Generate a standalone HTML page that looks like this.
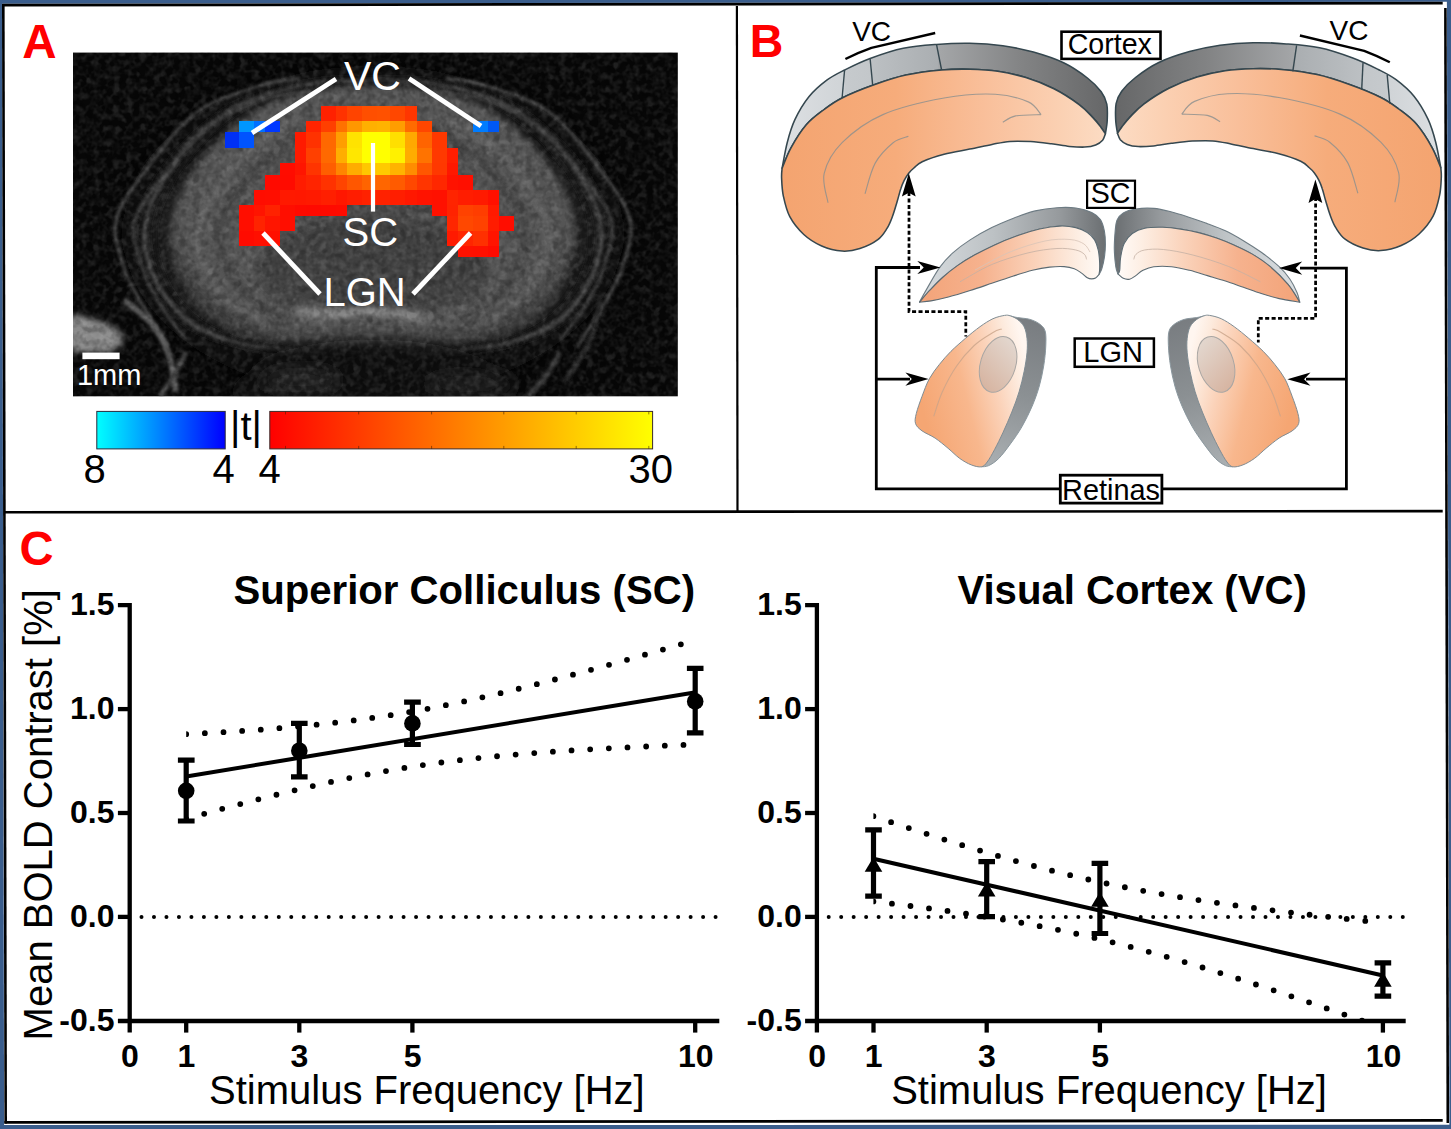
<!DOCTYPE html>
<html lang="en"><head><meta charset="utf-8"><title>Figure</title>
<style>
html,body{margin:0;padding:0;background:#fff;}
body{width:1451px;height:1129px;overflow:hidden;font-family:'Liberation Sans', Arial, Helvetica, sans-serif;}
svg{display:block;}
text{font-family:'Liberation Sans', Arial, Helvetica, sans-serif;}
</style></head><body>
<svg width="1451" height="1129" viewBox="0 0 1451 1129">
<rect x="0" y="0" width="1451" height="1129" fill="#3a5d8c"/>
<polygon points="2.1,3.8 1446.9,1.8 1449.4,1124.7 4.1,1125.1" fill="#ffffff"/>
<g stroke="#000" fill="none" stroke-linecap="butt">
<line x1="2.2" y1="5.2" x2="1442.7" y2="3.1" stroke-width="2.7"/>
<line x1="3.3" y1="4" x2="5.7" y2="1123.6" stroke-width="2.6"/>
<line x1="1445.4" y1="8" x2="1447.8" y2="1123" stroke-width="2.6"/>
<line x1="4.4" y1="1122.4" x2="1442.7" y2="1120.4" stroke-width="2.8"/>
<line x1="4.5" y1="512.3" x2="1442.7" y2="511.1" stroke-width="2.6"/>
<line x1="736.9" y1="6" x2="737.5" y2="512" stroke-width="2.2"/>
</g>
<g font-weight="bold" font-size="46.5" fill="#ff0000">
<text x="22.2" y="57.9" font-size="47.6">A</text>
<text x="749.8" y="57.2">B</text>
<text x="19.6" y="564.7" font-size="47.2">C</text>
</g>
<defs>
<clipPath id="mriclip"><rect x="73.0" y="52.6" width="604.8" height="343.7"/></clipPath>
<filter id="b6" x="-20%" y="-20%" width="140%" height="140%"><feGaussianBlur stdDeviation="6"/></filter>
<filter id="b9" x="-20%" y="-20%" width="140%" height="140%"><feGaussianBlur stdDeviation="9"/></filter>
<filter id="b3" x="-20%" y="-20%" width="140%" height="140%"><feGaussianBlur stdDeviation="3"/></filter>
<filter id="b2" x="-20%" y="-20%" width="140%" height="140%"><feGaussianBlur stdDeviation="1.8"/></filter>
<filter id="grainW" x="0" y="0" width="100%" height="100%"><feTurbulence type="fractalNoise" baseFrequency="0.15" numOctaves="2" seed="7"/><feColorMatrix type="matrix" values="0 0 0 0 1  0 0 0 0 1  0 0 0 0 1  1.6 1.6 1.6 0 -2.1"/></filter>
<filter id="grainK" x="0" y="0" width="100%" height="100%"><feTurbulence type="fractalNoise" baseFrequency="0.15" numOctaves="2" seed="23"/><feColorMatrix type="matrix" values="0 0 0 0 0  0 0 0 0 0  0 0 0 0 0  1.6 1.6 1.6 0 -2.1"/></filter>
<radialGradient id="brainG" cx="0.5" cy="0.48" r="0.55"><stop offset="0" stop-color="#4a4a4a"/><stop offset="0.55" stop-color="#525252"/><stop offset="0.85" stop-color="#565656"/><stop offset="1" stop-color="#3c3c3c"/></radialGradient>
<linearGradient id="cbBlue" x1="0" x2="1" y1="0" y2="0"><stop offset="0" stop-color="#00ffff"/><stop offset="0.5" stop-color="#0080ff"/><stop offset="1" stop-color="#0000ff"/></linearGradient>
<linearGradient id="cbHot" x1="0" x2="1" y1="0" y2="0"><stop offset="0" stop-color="#ff0000"/><stop offset="0.5" stop-color="#ff8000"/><stop offset="1" stop-color="#ffff00"/></linearGradient>
</defs>
<rect x="73.0" y="52.6" width="604.8" height="343.7" fill="#070707"/>
<g clip-path="url(#mriclip)">
<g filter="url(#b9)">
<ellipse cx="373" cy="232" rx="250" ry="165" fill="#101010"/>
<path d="M373.0,84.0 C405.3,84.0 438.8,87.3 470.0,100.0 C501.2,112.7 537.3,138.7 560.0,160.0 C582.7,181.3 603.5,204.7 606.0,228.0 C608.5,251.3 592.7,280.5 575.0,300.0 C557.3,319.5 533.7,336.3 500.0,345.0 C466.3,353.7 415.3,352.0 373.0,352.0 C330.7,352.0 279.7,353.7 246.0,345.0 C212.3,336.3 188.7,319.5 171.0,300.0 C153.3,280.5 137.5,251.3 140.0,228.0 C142.5,204.7 163.3,181.3 186.0,160.0 C208.7,138.7 244.8,112.7 276.0,100.0 C307.2,87.3 340.7,84.0 373.0,84.0Z" fill="#1c1c1c"/>
</g>
<clipPath id="ringclip"><rect x="60" y="40" width="640" height="318"/></clipPath>
<g filter="url(#b2)" fill="none" clip-path="url(#ringclip)">
<path d="M373.0,81.1 C393.4,81.1 413.3,81.1 434.3,85.2 C455.2,89.4 480.0,95.9 498.8,105.9 C517.6,115.9 533.7,131.0 547.1,145.3 C560.6,159.6 572.1,177.4 579.4,191.8 C586.7,206.3 590.9,217.9 591.2,232.2 C591.6,246.5 587.8,263.8 581.5,277.8 C575.3,291.7 565.6,305.7 553.6,316.0 C541.6,326.4 527.6,334.2 509.5,339.9 C491.4,345.5 467.8,348.1 445.0,350.2 C422.3,352.3 397.0,352.3 373.0,352.3 C349.0,352.3 323.7,352.3 301.0,350.2 C278.2,348.1 254.6,345.5 236.5,339.9 C218.4,334.2 204.4,326.4 192.4,316.0 C180.4,305.7 170.7,291.7 164.5,277.8 C158.2,263.8 154.4,246.5 154.8,232.2 C155.1,217.9 159.3,206.3 166.6,191.8 C173.9,177.4 185.4,159.6 198.8,145.3 C212.3,131.0 228.4,115.9 247.2,105.9 C266.0,95.9 290.8,89.4 311.7,85.2 C332.7,81.1 352.6,81.1 373.0,81.1Z" stroke="#181818" stroke-width="5.0"/>
<path d="M373.0,79.0 C394.4,79.0 415.2,79.0 437.1,83.2 C459.1,87.4 484.9,94.0 504.6,104.2 C524.3,114.3 541.2,129.6 555.2,144.1 C569.3,158.6 581.3,176.6 589.0,191.3 C596.7,206.1 601.0,217.8 601.4,232.3 C601.8,246.8 597.8,264.3 591.2,278.5 C584.7,292.7 574.6,306.9 562.0,317.4 C549.4,327.9 534.8,335.7 515.9,341.5 C496.9,347.3 472.2,349.9 448.4,352.0 C424.6,354.1 398.1,354.1 373.0,354.1 C347.9,354.1 321.4,354.1 297.6,352.0 C273.8,349.9 249.1,347.3 230.1,341.5 C211.2,335.7 196.6,327.9 184.0,317.4 C171.4,306.9 161.3,292.7 154.8,278.5 C148.2,264.3 144.2,246.8 144.6,232.3 C145.0,217.8 149.3,206.1 157.0,191.3 C164.7,176.6 176.7,158.6 190.8,144.1 C204.8,129.6 221.7,114.3 241.4,104.2 C261.1,94.0 286.9,87.4 308.9,83.2 C330.8,79.0 351.6,79.0 373.0,79.0Z" stroke="#444444" stroke-width="4.2"/>
<path d="M373.0,77.6 C395.2,77.6 416.8,77.6 439.6,81.8 C462.4,86.1 489.2,92.8 509.7,103.0 C530.1,113.3 547.6,128.7 562.2,143.3 C576.8,158.0 589.3,176.2 597.3,191.0 C605.2,205.9 609.7,217.7 610.1,232.4 C610.5,247.0 606.4,264.7 599.6,279.0 C592.8,293.3 582.3,307.6 569.2,318.2 C556.2,328.8 541.0,336.8 521.3,342.6 C501.7,348.4 476.0,351.1 451.3,353.2 C426.5,355.3 399.1,355.3 373.0,355.3 C346.9,355.3 319.5,355.3 294.7,353.2 C270.0,351.1 244.3,348.4 224.7,342.6 C205.0,336.8 189.8,328.8 176.8,318.2 C163.7,307.6 153.2,293.3 146.4,279.0 C139.6,264.7 135.5,247.0 135.9,232.4 C136.3,217.7 140.8,205.9 148.7,191.0 C156.7,176.2 169.2,158.0 183.8,143.3 C198.4,128.7 215.9,113.3 236.3,103.0 C256.8,92.8 283.6,86.1 306.4,81.8 C329.2,77.6 350.8,77.6 373.0,77.6Z" stroke="#161616" stroke-width="3.6"/>
<path d="M300.0,78.0 C293.2,79.3 276.3,80.2 259.0,86.0 C241.7,91.8 214.8,99.0 196.0,113.0 C177.2,127.0 159.3,152.2 146.0,170.0 C132.7,187.8 119.7,203.7 116.0,220.0 C112.3,236.3 119.7,254.0 124.0,268.0 C128.3,282.0 134.7,291.0 142.0,304.0 C149.3,317.0 163.7,339.0 168.0,346.0" stroke="#444444" stroke-width="3.4"/>
<path d="M446.0,78.0 C452.8,79.3 469.7,80.2 487.0,86.0 C504.3,91.8 531.2,99.0 550.0,113.0 C568.8,127.0 586.7,152.2 600.0,170.0 C613.3,187.8 626.3,203.7 630.0,220.0 C633.7,236.3 626.3,254.0 622.0,268.0 C617.7,282.0 611.3,291.0 604.0,304.0 C596.7,317.0 582.3,339.0 578.0,346.0" stroke="#444444" stroke-width="3.4"/>
<path d="M306.0,92.0 C298.7,93.3 278.8,94.0 262.0,100.0 C245.2,106.0 222.0,114.7 205.0,128.0 C188.0,141.3 171.8,164.3 160.0,180.0 C148.2,195.7 137.0,207.7 134.0,222.0 C131.0,236.3 138.0,252.7 142.0,266.0 C146.0,279.3 150.7,289.7 158.0,302.0 C165.3,314.3 181.3,333.7 186.0,340.0" stroke="#3c3c3c" stroke-width="3.2"/>
<path d="M440.0,92.0 C447.3,93.3 467.2,94.0 484.0,100.0 C500.8,106.0 524.0,114.7 541.0,128.0 C558.0,141.3 574.2,164.3 586.0,180.0 C597.8,195.7 609.0,207.7 612.0,222.0 C615.0,236.3 608.0,252.7 604.0,266.0 C600.0,279.3 595.3,289.7 588.0,302.0 C580.7,314.3 564.7,333.7 560.0,340.0" stroke="#3c3c3c" stroke-width="3.2"/>
</g>
<g filter="url(#b3)">
<path d="M373.0,86.0 C392.0,86.0 410.5,86.0 430.0,90.0 C449.5,94.0 472.5,100.3 490.0,110.0 C507.5,119.7 522.5,134.2 535.0,148.0 C547.5,161.8 558.2,179.0 565.0,193.0 C571.8,207.0 575.7,218.2 576.0,232.0 C576.3,245.8 572.8,262.5 567.0,276.0 C561.2,289.5 552.2,303.0 541.0,313.0 C529.8,323.0 516.8,330.5 500.0,336.0 C483.2,341.5 461.2,344.0 440.0,346.0 C418.8,348.0 395.3,348.0 373.0,348.0 C350.7,348.0 327.2,348.0 306.0,346.0 C284.8,344.0 262.8,341.5 246.0,336.0 C229.2,330.5 216.2,323.0 205.0,313.0 C193.8,303.0 184.8,289.5 179.0,276.0 C173.2,262.5 169.7,245.8 170.0,232.0 C170.3,218.2 174.2,207.0 181.0,193.0 C187.8,179.0 198.5,161.8 211.0,148.0 C223.5,134.2 238.5,119.7 256.0,110.0 C273.5,100.3 296.5,94.0 316.0,90.0 C335.5,86.0 354.0,86.0 373.0,86.0Z" fill="url(#brainG)"/>
<path d="M300.0,116.0 C289.3,123.8 253.0,143.7 236.0,163.0 C219.0,182.3 201.0,210.5 198.0,232.0 C195.0,253.5 206.3,276.3 218.0,292.0 C229.7,307.7 259.7,320.3 268.0,326.0" fill="none" stroke="#747474" stroke-width="4" opacity="0.75"/>
<path d="M446.0,116.0 C456.7,123.8 493.0,143.7 510.0,163.0 C527.0,182.3 545.0,210.5 548.0,232.0 C551.0,253.5 539.7,276.3 528.0,292.0 C516.3,307.7 486.3,320.3 478.0,326.0" fill="none" stroke="#747474" stroke-width="4" opacity="0.75"/>
<path d="M316.0,126.0 C306.0,133.3 272.0,152.3 256.0,170.0 C240.0,187.7 222.7,212.3 220.0,232.0 C217.3,251.7 229.0,273.3 240.0,288.0 C251.0,302.7 278.3,314.7 286.0,320.0" fill="none" stroke="#2e2e2e" stroke-width="4" opacity="0.75"/>
<path d="M430.0,126.0 C440.0,133.3 474.0,152.3 490.0,170.0 C506.0,187.7 523.3,212.3 526.0,232.0 C528.7,251.7 517.0,273.3 506.0,288.0 C495.0,302.7 467.7,314.7 460.0,320.0" fill="none" stroke="#2e2e2e" stroke-width="4" opacity="0.75"/>
<path d="M330.0,138.0 C321.0,144.7 290.3,162.3 276.0,178.0 C261.7,193.7 246.3,214.7 244.0,232.0 C241.7,249.3 252.7,268.7 262.0,282.0 C271.3,295.3 293.7,307.0 300.0,312.0" fill="none" stroke="#6c6c6c" stroke-width="3.5" opacity="0.65"/>
<path d="M416.0,138.0 C425.0,144.7 455.7,162.3 470.0,178.0 C484.3,193.7 499.7,214.7 502.0,232.0 C504.3,249.3 493.3,268.7 484.0,282.0 C474.7,295.3 452.3,307.0 446.0,312.0" fill="none" stroke="#6c6c6c" stroke-width="3.5" opacity="0.65"/>
<ellipse cx="373" cy="272" rx="118" ry="52" fill="#363636" opacity="0.55"/>
</g>
<g filter="url(#b9)">
<path d="M262.0,362.0 C272.7,352.5 291.5,348.7 310.0,345.0 C328.5,341.3 352.0,340.0 373.0,340.0 C394.0,340.0 417.5,341.3 436.0,345.0 C454.5,348.7 473.3,352.5 484.0,362.0 C494.7,371.5 539.7,395.3 500.0,402.0 C460.3,408.7 285.7,408.7 246.0,402.0 C206.3,395.3 251.3,371.5 262.0,362.0Z" fill="#101010"/>
<ellipse cx="300" cy="380" rx="40" ry="10" fill="#262626"/>
<ellipse cx="470" cy="384" rx="46" ry="9" fill="#222"/>
</g>
<g filter="url(#b3)">
<path d="M300.0,311.0 C305.3,311.5 319.8,313.8 332.0,314.0 C344.2,314.2 360.0,311.8 373.0,312.0 C386.0,312.2 401.5,314.0 410.0,315.0 C418.5,316.0 421.7,317.5 424.0,318.0" fill="none" stroke="#8c8c8c" stroke-width="9" stroke-linecap="round"/>
<path d="M424.0,318.0 C427.7,316.8 438.7,313.0 446.0,311.0 C453.3,309.0 464.3,306.8 468.0,306.0" fill="none" stroke="#5e5e5e" stroke-width="6" stroke-linecap="round"/>
<path d="M68.0,316.0 C72.7,311.7 87.0,317.0 96.0,320.0 C105.0,323.0 119.0,329.0 122.0,334.0 C125.0,339.0 120.3,347.0 114.0,350.0 C107.7,353.0 91.7,352.7 84.0,352.0 C76.3,351.3 70.7,352.0 68.0,346.0 C65.3,340.0 63.3,320.3 68.0,316.0Z" fill="#8a8a8a"/>
</g>
<g filter="url(#b2)">
<path d="M124.0,300.0 C128.3,303.7 142.7,313.3 150.0,322.0 C157.3,330.7 163.7,340.3 168.0,352.0 C172.3,363.7 174.7,385.3 176.0,392.0" fill="none" stroke="#5a5a5a" stroke-width="6"/>
<path d="M186.0,352.0 C184.3,355.3 180.3,364.7 176.0,372.0 C171.7,379.3 162.7,392.0 160.0,396.0" fill="none" stroke="#444" stroke-width="5"/>
<path d="M560.0,352.0 C557.7,356.0 551.3,368.7 546.0,376.0 C540.7,383.3 531.0,392.7 528.0,396.0" fill="none" stroke="#3a3a3a" stroke-width="5"/>
<path d="M600.0,300.0 C598.3,306.7 595.7,326.7 590.0,340.0 C584.3,353.3 570.0,373.3 566.0,380.0" fill="none" stroke="#2c2c2c" stroke-width="5"/>
</g>
<rect x="73.0" y="52.6" width="604.8" height="343.7" filter="url(#grainW)" opacity="0.10"/>
<rect x="73.0" y="52.6" width="604.8" height="343.7" filter="url(#grainK)" opacity="0.22"/>
</g>
<g shape-rendering="crispEdges">
<rect x="239" y="205" width="15" height="11" fill="#ff0e00"/>
<rect x="239" y="216" width="15" height="15" fill="#ff0e00"/>
<rect x="239" y="231" width="15" height="15" fill="#ff0b00"/>
<rect x="254" y="190" width="11" height="15" fill="#ff0d00"/>
<rect x="254" y="205" width="11" height="11" fill="#ff1400"/>
<rect x="254" y="216" width="11" height="15" fill="#ff2300"/>
<rect x="254" y="231" width="11" height="15" fill="#ff0f00"/>
<rect x="265" y="175" width="15" height="15" fill="#ff0a00"/>
<rect x="265" y="190" width="15" height="15" fill="#ff0e00"/>
<rect x="265" y="205" width="15" height="11" fill="#ff2200"/>
<rect x="265" y="216" width="15" height="15" fill="#ff1500"/>
<rect x="265" y="231" width="15" height="15" fill="#ff0f00"/>
<rect x="280" y="163" width="15" height="12" fill="#ff0c00"/>
<rect x="280" y="175" width="15" height="15" fill="#ff0b00"/>
<rect x="280" y="190" width="15" height="15" fill="#ff1900"/>
<rect x="280" y="205" width="15" height="11" fill="#ff0e00"/>
<rect x="280" y="216" width="15" height="15" fill="#ff0e00"/>
<rect x="295" y="132" width="11" height="16" fill="#ff1a00"/>
<rect x="295" y="148" width="11" height="15" fill="#ff1a00"/>
<rect x="295" y="163" width="11" height="12" fill="#ff1500"/>
<rect x="295" y="175" width="11" height="15" fill="#ff1c00"/>
<rect x="295" y="190" width="11" height="15" fill="#ff1800"/>
<rect x="295" y="205" width="11" height="11" fill="#ff0a00"/>
<rect x="306" y="121" width="15" height="11" fill="#ff2400"/>
<rect x="306" y="132" width="15" height="16" fill="#ff3200"/>
<rect x="306" y="148" width="15" height="15" fill="#ff4000"/>
<rect x="306" y="163" width="15" height="12" fill="#ff3400"/>
<rect x="306" y="175" width="15" height="15" fill="#ff2400"/>
<rect x="306" y="190" width="15" height="15" fill="#ff1a00"/>
<rect x="306" y="205" width="15" height="11" fill="#ff0900"/>
<rect x="321" y="106" width="15" height="15" fill="#ff2100"/>
<rect x="321" y="121" width="15" height="11" fill="#ff3f00"/>
<rect x="321" y="132" width="15" height="16" fill="#ff6800"/>
<rect x="321" y="148" width="15" height="15" fill="#ff6900"/>
<rect x="321" y="163" width="15" height="12" fill="#ff5e00"/>
<rect x="321" y="175" width="15" height="15" fill="#ff3200"/>
<rect x="321" y="190" width="15" height="15" fill="#ff1f00"/>
<rect x="321" y="205" width="15" height="11" fill="#ff0a00"/>
<rect x="336" y="106" width="11" height="15" fill="#ff3200"/>
<rect x="336" y="121" width="11" height="11" fill="#ff7100"/>
<rect x="336" y="132" width="11" height="16" fill="#ff9e00"/>
<rect x="336" y="148" width="11" height="15" fill="#ffae00"/>
<rect x="336" y="163" width="11" height="12" fill="#ff8500"/>
<rect x="336" y="175" width="11" height="15" fill="#ff4400"/>
<rect x="336" y="190" width="11" height="15" fill="#ff1700"/>
<rect x="336" y="205" width="11" height="11" fill="#ff0b00"/>
<rect x="347" y="106" width="15" height="15" fill="#ff4400"/>
<rect x="347" y="121" width="15" height="11" fill="#ff9700"/>
<rect x="347" y="132" width="15" height="16" fill="#ffe300"/>
<rect x="347" y="148" width="15" height="15" fill="#ffe700"/>
<rect x="347" y="163" width="15" height="12" fill="#ffac00"/>
<rect x="347" y="175" width="15" height="15" fill="#ff5700"/>
<rect x="347" y="190" width="15" height="15" fill="#ff1d00"/>
<rect x="362" y="106" width="15" height="15" fill="#ff4f00"/>
<rect x="362" y="121" width="15" height="11" fill="#ffb000"/>
<rect x="362" y="132" width="15" height="16" fill="#ffff00"/>
<rect x="362" y="148" width="15" height="15" fill="#ffff00"/>
<rect x="362" y="163" width="15" height="12" fill="#ffc700"/>
<rect x="362" y="175" width="15" height="15" fill="#ff6400"/>
<rect x="362" y="190" width="15" height="15" fill="#ff2200"/>
<rect x="377" y="106" width="13" height="15" fill="#ff5100"/>
<rect x="377" y="121" width="13" height="11" fill="#ffb300"/>
<rect x="377" y="132" width="13" height="16" fill="#ffff00"/>
<rect x="377" y="148" width="13" height="15" fill="#ffff00"/>
<rect x="377" y="163" width="13" height="12" fill="#ffca00"/>
<rect x="377" y="175" width="13" height="15" fill="#ff6600"/>
<rect x="377" y="190" width="13" height="15" fill="#ff2200"/>
<rect x="390" y="106" width="15" height="15" fill="#ff4700"/>
<rect x="390" y="121" width="15" height="11" fill="#ff9d00"/>
<rect x="390" y="132" width="15" height="16" fill="#ffdf00"/>
<rect x="390" y="148" width="15" height="15" fill="#fff100"/>
<rect x="390" y="163" width="15" height="12" fill="#ffb300"/>
<rect x="390" y="175" width="15" height="15" fill="#ff5b00"/>
<rect x="390" y="190" width="15" height="15" fill="#ff1e00"/>
<rect x="405" y="106" width="12" height="15" fill="#ff3600"/>
<rect x="405" y="121" width="12" height="11" fill="#ff6b00"/>
<rect x="405" y="132" width="12" height="16" fill="#ffa900"/>
<rect x="405" y="148" width="12" height="15" fill="#ffac00"/>
<rect x="405" y="163" width="12" height="12" fill="#ff8d00"/>
<rect x="405" y="175" width="12" height="15" fill="#ff4800"/>
<rect x="405" y="190" width="12" height="15" fill="#ff1800"/>
<rect x="417" y="121" width="15" height="11" fill="#ff4600"/>
<rect x="417" y="132" width="15" height="16" fill="#ff6400"/>
<rect x="417" y="148" width="15" height="15" fill="#ff7300"/>
<rect x="417" y="163" width="15" height="12" fill="#ff5700"/>
<rect x="417" y="175" width="15" height="15" fill="#ff3500"/>
<rect x="417" y="190" width="15" height="15" fill="#ff1300"/>
<rect x="432" y="132" width="15" height="16" fill="#ff3800"/>
<rect x="432" y="148" width="15" height="15" fill="#ff3900"/>
<rect x="432" y="163" width="15" height="12" fill="#ff3800"/>
<rect x="432" y="175" width="15" height="15" fill="#ff2700"/>
<rect x="432" y="190" width="15" height="15" fill="#ff1100"/>
<rect x="432" y="205" width="15" height="11" fill="#ff1100"/>
<rect x="447" y="148" width="11" height="15" fill="#ff1e00"/>
<rect x="447" y="163" width="11" height="12" fill="#ff1800"/>
<rect x="447" y="175" width="11" height="15" fill="#ff1200"/>
<rect x="447" y="190" width="11" height="15" fill="#ff2400"/>
<rect x="447" y="205" width="11" height="11" fill="#ff2300"/>
<rect x="447" y="216" width="11" height="15" fill="#ff2600"/>
<rect x="447" y="231" width="11" height="15" fill="#ff1a00"/>
<rect x="458" y="175" width="15" height="15" fill="#ff0f00"/>
<rect x="458" y="190" width="15" height="15" fill="#ff1d00"/>
<rect x="458" y="205" width="15" height="11" fill="#ff4200"/>
<rect x="458" y="216" width="15" height="15" fill="#ff4800"/>
<rect x="458" y="231" width="15" height="15" fill="#ff2600"/>
<rect x="458" y="246" width="15" height="11" fill="#ff1100"/>
<rect x="473" y="190" width="15" height="15" fill="#ff1a00"/>
<rect x="473" y="205" width="15" height="11" fill="#ff3d00"/>
<rect x="473" y="216" width="15" height="15" fill="#ff4200"/>
<rect x="473" y="231" width="15" height="15" fill="#ff3000"/>
<rect x="473" y="246" width="15" height="11" fill="#ff1000"/>
<rect x="488" y="190" width="11" height="15" fill="#ff1000"/>
<rect x="488" y="205" width="11" height="11" fill="#ff1a00"/>
<rect x="488" y="216" width="11" height="15" fill="#ff1c00"/>
<rect x="488" y="231" width="11" height="15" fill="#ff1400"/>
<rect x="488" y="246" width="11" height="11" fill="#ff0b00"/>
<rect x="499" y="216" width="15" height="15" fill="#ff0d00"/>
<rect x="239" y="121" width="15" height="11" fill="#0096ff"/>
<rect x="254" y="121" width="11" height="11" fill="#0070ff"/>
<rect x="265" y="121" width="15" height="11" fill="#0038ff"/>
<rect x="225" y="132" width="14" height="16" fill="#0030f4"/>
<rect x="239" y="132" width="15" height="16" fill="#0054ff"/>
<rect x="473" y="121" width="15" height="11" fill="#007cff"/>
<rect x="488" y="121" width="11" height="11" fill="#0058f4"/>
</g>
<g stroke="#fff" stroke-width="4.8" fill="none">
<line x1="336" y1="79" x2="252" y2="133"/>
<line x1="409" y1="78.6" x2="481" y2="126"/>
<line x1="373" y1="143" x2="373" y2="211.6" stroke-width="4.2"/>
<line x1="263" y1="233" x2="320" y2="294"/>
<line x1="470.6" y1="233" x2="413" y2="294"/>
</g>
<g fill="#fff" font-size="40">
<text x="343.9" y="89.7" font-size="41">VC</text>
<text x="342.6" y="246.4">SC</text>
<text x="323.4" y="305.6">LGN</text>
<text x="76.9" y="385.2" font-size="29">1mm</text>
</g>
<rect x="82.4" y="352.6" width="37.2" height="6.6" fill="#fff"/>
<rect x="96.8" y="411.4" width="128.4" height="37.5" fill="url(#cbBlue)" stroke="#2a2a3a" stroke-width="1"/>
<rect x="269.8" y="411.4" width="382.8" height="37.5" fill="url(#cbHot)" stroke="#3a2a2a" stroke-width="1"/>
<g stroke="#402000" stroke-width="0.8" opacity="0.7">
<line x1="285.4" y1="411.4" x2="285.4" y2="414.4"/><line x1="285.4" y1="445.9" x2="285.4" y2="448.9"/>
<line x1="358.7" y1="411.4" x2="358.7" y2="414.4"/><line x1="358.7" y1="445.9" x2="358.7" y2="448.9"/>
<line x1="431.6" y1="411.4" x2="431.6" y2="414.4"/><line x1="431.6" y1="445.9" x2="431.6" y2="448.9"/>
<line x1="503.8" y1="411.4" x2="503.8" y2="414.4"/><line x1="503.8" y1="445.9" x2="503.8" y2="448.9"/>
<line x1="576.2" y1="411.4" x2="576.2" y2="414.4"/><line x1="576.2" y1="445.9" x2="576.2" y2="448.9"/>
<line x1="648.8" y1="411.4" x2="648.8" y2="414.4"/><line x1="648.8" y1="445.9" x2="648.8" y2="448.9"/>
</g>
<g fill="#000" font-size="40">
<text x="83.6" y="483.2">8</text>
<text x="212.6" y="483.2">4</text>
<text x="258.4" y="483.2">4</text>
<text x="628.6" y="483.2">30</text>
<text x="230.0" y="440.1" font-size="40">|t|</text>
</g>
<defs>
<linearGradient id="ctxBand" gradientUnits="userSpaceOnUse" x1="782" y1="0" x2="1107" y2="0"><stop offset="0" stop-color="#dde0e3"/><stop offset="0.19" stop-color="#d0d4d7"/><stop offset="0.195" stop-color="#c6cacd"/><stop offset="0.272" stop-color="#c3c7ca"/><stop offset="0.278" stop-color="#bcc0c3"/><stop offset="0.478" stop-color="#aaaeb1"/><stop offset="0.484" stop-color="#a4a6a8"/><stop offset="0.74" stop-color="#828384"/><stop offset="1" stop-color="#666768"/></linearGradient>
<linearGradient id="ctxBandR" gradientUnits="userSpaceOnUse" x1="782" y1="0" x2="1107" y2="0"><stop offset="0" stop-color="#dde0e3"/><stop offset="0.16" stop-color="#d0d4d7"/><stop offset="0.166" stop-color="#c6cacd"/><stop offset="0.238" stop-color="#c3c7ca"/><stop offset="0.245" stop-color="#bcc0c3"/><stop offset="0.446" stop-color="#aaaeb1"/><stop offset="0.452" stop-color="#a4a6a8"/><stop offset="0.72" stop-color="#828384"/><stop offset="1" stop-color="#666768"/></linearGradient>
<linearGradient id="ctxFace" gradientUnits="userSpaceOnUse" x1="782" y1="0" x2="1107" y2="0"><stop offset="0" stop-color="#f4a470"/><stop offset="0.35" stop-color="#f6ac7b"/><stop offset="0.62" stop-color="#f9bf9a"/><stop offset="0.85" stop-color="#fbd0b2"/><stop offset="1" stop-color="#fcdcc4"/></linearGradient>
<linearGradient id="scBand" gradientUnits="userSpaceOnUse" x1="919" y1="0" x2="1106" y2="0"><stop offset="0" stop-color="#d9dde0"/><stop offset="0.4" stop-color="#bcc1c4"/><stop offset="0.75" stop-color="#969a9d"/><stop offset="1" stop-color="#6a6e71"/></linearGradient>
<linearGradient id="scFace" gradientUnits="userSpaceOnUse" x1="919" y1="0" x2="1100" y2="0"><stop offset="0" stop-color="#f3a378"/><stop offset="0.35" stop-color="#f6b28e"/><stop offset="0.65" stop-color="#fad3bb"/><stop offset="0.88" stop-color="#fdeee3"/><stop offset="1" stop-color="#fffaf6"/></linearGradient>
<linearGradient id="scBandR" gradientUnits="userSpaceOnUse" x1="1301" y1="0" x2="1114" y2="0"><stop offset="0" stop-color="#dde1e4"/><stop offset="0.4" stop-color="#bfc4c7"/><stop offset="0.75" stop-color="#969a9d"/><stop offset="1" stop-color="#6a6e71"/></linearGradient>
<linearGradient id="scFaceR" gradientUnits="userSpaceOnUse" x1="1301" y1="0" x2="1120" y2="0"><stop offset="0" stop-color="#f3a378"/><stop offset="0.35" stop-color="#f6b28e"/><stop offset="0.65" stop-color="#fad3bb"/><stop offset="0.88" stop-color="#fdeee3"/><stop offset="1" stop-color="#fffaf6"/></linearGradient>
<linearGradient id="lgnSide" gradientUnits="userSpaceOnUse" x1="1040" y1="320" x2="995" y2="465"><stop offset="0" stop-color="#787c80"/><stop offset="0.5" stop-color="#8b9093"/><stop offset="1" stop-color="#a9aeb1"/></linearGradient>
<linearGradient id="lgnFace" gradientUnits="userSpaceOnUse" x1="920" y1="400" x2="1030" y2="372"><stop offset="0" stop-color="#f5a673"/><stop offset="0.4" stop-color="#f8b78d"/><stop offset="0.68" stop-color="#fbd3ba"/><stop offset="0.88" stop-color="#fdebde"/><stop offset="1" stop-color="#fff6f0"/></linearGradient>
<linearGradient id="lgnOval" gradientUnits="userSpaceOnUse" x1="984" y1="385" x2="1012" y2="340"><stop offset="0" stop-color="#d7b5a2"/><stop offset="1" stop-color="#e3d8d0"/></linearGradient>
</defs>
<g transform="translate(0,0)" stroke-linejoin="round">
<path d="M782.1,168.2 C783.0,163.9 785.1,150.8 787.2,142.7 C789.3,134.6 791.3,127.3 794.9,119.7 C798.5,112.1 803.6,103.4 808.9,96.8 C814.2,90.2 820.8,84.7 826.8,80.2 C832.8,75.7 837.4,73.6 844.6,70.0 C851.8,66.4 860.3,62.1 870.1,58.5 C879.9,54.9 892.2,50.6 903.3,48.3 C914.4,45.9 925.4,45.2 936.5,44.4 C947.6,43.5 958.7,43.0 969.7,43.2 C980.8,43.4 992.2,44.2 1002.8,45.7 C1013.4,47.2 1023.2,49.2 1033.4,52.1 C1043.6,55.0 1055.1,58.7 1064.1,63.0 C1073.1,67.3 1081.2,73.2 1087.4,78.0 C1093.6,82.8 1098.0,87.4 1101.2,91.8 C1104.4,96.2 1105.8,99.4 1106.8,104.2 C1107.8,109.0 1107.4,115.8 1107.2,120.8 C1107.0,125.8 1105.7,131.7 1105.4,133.9 L1105.4,133.9 C1104.7,132.9 1103.3,130.4 1101.2,127.7 C1099.1,125.0 1096.6,121.4 1092.9,117.6 C1089.2,113.8 1085.6,109.4 1079.1,104.6 C1072.6,99.8 1062.8,93.3 1053.9,88.8 C1045.0,84.3 1035.2,80.5 1025.8,77.6 C1016.4,74.7 1007.1,72.6 997.7,71.2 C988.4,69.8 979.1,69.4 969.7,69.2 C960.4,69.0 952.2,69.0 941.6,70.0 C931.0,71.0 917.4,72.5 905.9,75.1 C894.4,77.6 883.3,81.5 872.7,85.3 C862.1,89.1 850.2,94.0 842.1,98.0 C834.0,102.0 830.2,105.0 824.2,109.5 C818.2,114.0 811.8,118.4 806.3,124.8 C800.8,131.2 795.0,140.6 791.0,147.8 C787.0,155.0 783.6,164.8 782.1,168.2Z" fill="url(#ctxBand)" stroke="#35474f" stroke-width="1.55"/>
<path d="M782.1,168.2 C783.6,164.8 787.0,155.0 791.0,147.8 C795.0,140.6 800.8,131.2 806.3,124.8 C811.8,118.4 818.2,114.0 824.2,109.5 C830.2,105.0 834.0,102.0 842.1,98.0 C850.2,94.0 862.1,89.1 872.7,85.3 C883.3,81.5 894.4,77.6 905.9,75.1 C917.4,72.5 931.0,71.0 941.6,70.0 C952.2,69.0 960.4,69.0 969.7,69.2 C979.1,69.4 988.4,69.8 997.7,71.2 C1007.1,72.6 1016.4,74.7 1025.8,77.6 C1035.2,80.5 1045.0,84.3 1053.9,88.8 C1062.8,93.3 1072.6,99.8 1079.1,104.6 C1085.6,109.4 1089.2,113.8 1092.9,117.6 C1096.6,121.4 1099.1,125.0 1101.2,127.7 C1103.3,130.4 1104.7,132.9 1105.4,133.9 C1104.9,134.9 1104.2,138.3 1102.6,140.2 C1101.0,142.0 1098.7,143.8 1095.7,145.0 C1092.7,146.2 1089.0,146.9 1084.6,147.1 C1080.2,147.3 1074.9,146.9 1069.4,146.4 C1063.9,145.9 1058.0,144.6 1051.5,143.8 C1045.0,143.0 1037.6,142.0 1030.7,141.6 C1023.8,141.2 1016.5,140.9 1010.0,141.4 C1003.5,141.9 998.7,143.1 992.0,144.4 C985.3,145.7 977.7,147.5 969.7,149.1 C961.7,150.7 952.0,152.1 944.1,154.2 C936.2,156.3 927.2,159.4 922.2,161.7 C917.2,164.0 916.1,166.1 913.9,168.0 C911.6,169.9 910.3,171.1 908.7,173.2 C907.1,175.3 905.5,177.8 904.2,180.4 C902.9,183.0 901.9,185.2 900.8,188.7 C899.6,192.1 898.7,196.5 897.3,201.1 C895.9,205.7 894.2,211.8 892.5,216.3 C890.8,220.9 889.5,224.5 887.0,228.4 C884.5,232.3 882.3,236.3 877.8,239.7 C873.3,243.1 865.8,246.7 859.9,248.6 C854.0,250.5 848.5,251.5 842.1,251.1 C835.7,250.7 828.1,248.8 821.7,246.0 C815.3,243.2 809.1,239.4 803.8,234.5 C798.5,229.6 793.2,223.1 789.8,216.7 C786.4,210.3 784.8,202.8 783.4,196.3 C782.0,189.9 781.8,182.7 781.6,178.0 C781.4,173.3 782.0,169.8 782.1,168.2Z" fill="url(#ctxFace)" stroke="#35474f" stroke-width="1.55"/>
<g stroke="#35474f" stroke-width="1.4" fill="none">
<line x1="844.6" y1="70.0" x2="842.1" y2="98.0"/>
<line x1="870.1" y1="58.5" x2="872.7" y2="85.3"/>
<line x1="936.5" y1="44.4" x2="941.6" y2="70.0"/>
</g>
<g stroke="#8b8f8e" stroke-width="1.15" fill="none" opacity="0.8">
<path d="M828.0,202.7 C827.4,197.8 821.9,183.3 824.2,173.3 C826.6,163.3 832.3,152.5 842.1,142.7 C851.9,132.9 865.9,122.0 882.9,114.6 C899.9,107.1 925.4,101.4 944.1,98.0 C962.8,94.6 981.2,93.5 995.2,94.2 C1009.2,94.9 1020.6,98.5 1028.3,101.9 C1035.9,105.3 1039.0,112.5 1041.1,114.6"/>
<path d="M1041.1,114.6 C1036.8,114.8 1022.0,114.6 1015.6,115.9 C1009.2,117.2 1004.9,121.2 1002.8,122.3"/>
<path d="M865.0,193.7 C866.7,188.6 870.5,171.6 875.2,163.1 C879.9,154.6 887.6,147.2 893.1,142.7 C898.6,138.2 905.9,137.4 908.4,136.3"/>
</g>
</g>
<g transform="translate(2222.9,-0.5) scale(-1,1)" stroke-linejoin="round">
<path d="M782.1,168.2 C783.0,163.9 785.1,150.8 787.2,142.7 C789.3,134.6 791.3,127.3 794.9,119.7 C798.5,112.1 803.6,103.4 808.9,96.8 C814.2,90.2 820.8,84.7 826.8,80.2 C832.8,75.7 837.4,73.6 844.6,70.0 C851.8,66.4 860.3,62.1 870.1,58.5 C879.9,54.9 892.2,50.6 903.3,48.3 C914.4,45.9 925.4,45.2 936.5,44.4 C947.6,43.5 958.7,43.0 969.7,43.2 C980.8,43.4 992.2,44.2 1002.8,45.7 C1013.4,47.2 1023.2,49.2 1033.4,52.1 C1043.6,55.0 1055.1,58.7 1064.1,63.0 C1073.1,67.3 1081.2,73.2 1087.4,78.0 C1093.6,82.8 1098.0,87.4 1101.2,91.8 C1104.4,96.2 1105.8,99.4 1106.8,104.2 C1107.8,109.0 1107.4,115.8 1107.2,120.8 C1107.0,125.8 1105.7,131.7 1105.4,133.9 L1105.4,133.9 C1104.7,132.9 1103.3,130.4 1101.2,127.7 C1099.1,125.0 1096.6,121.4 1092.9,117.6 C1089.2,113.8 1085.6,109.4 1079.1,104.6 C1072.6,99.8 1062.8,93.3 1053.9,88.8 C1045.0,84.3 1035.2,80.5 1025.8,77.6 C1016.4,74.7 1007.1,72.6 997.7,71.2 C988.4,69.8 979.1,69.4 969.7,69.2 C960.4,69.0 952.2,69.0 941.6,70.0 C931.0,71.0 917.4,72.5 905.9,75.1 C894.4,77.6 883.3,81.5 872.7,85.3 C862.1,89.1 850.2,94.0 842.1,98.0 C834.0,102.0 830.2,105.0 824.2,109.5 C818.2,114.0 811.8,118.4 806.3,124.8 C800.8,131.2 795.0,140.6 791.0,147.8 C787.0,155.0 783.6,164.8 782.1,168.2Z" fill="url(#ctxBandR)" stroke="#35474f" stroke-width="1.55"/>
<path d="M782.1,168.2 C783.6,164.8 787.0,155.0 791.0,147.8 C795.0,140.6 800.8,131.2 806.3,124.8 C811.8,118.4 818.2,114.0 824.2,109.5 C830.2,105.0 834.0,102.0 842.1,98.0 C850.2,94.0 862.1,89.1 872.7,85.3 C883.3,81.5 894.4,77.6 905.9,75.1 C917.4,72.5 931.0,71.0 941.6,70.0 C952.2,69.0 960.4,69.0 969.7,69.2 C979.1,69.4 988.4,69.8 997.7,71.2 C1007.1,72.6 1016.4,74.7 1025.8,77.6 C1035.2,80.5 1045.0,84.3 1053.9,88.8 C1062.8,93.3 1072.6,99.8 1079.1,104.6 C1085.6,109.4 1089.2,113.8 1092.9,117.6 C1096.6,121.4 1099.1,125.0 1101.2,127.7 C1103.3,130.4 1104.7,132.9 1105.4,133.9 C1104.9,134.9 1104.2,138.3 1102.6,140.2 C1101.0,142.0 1098.7,143.8 1095.7,145.0 C1092.7,146.2 1089.0,146.9 1084.6,147.1 C1080.2,147.3 1074.9,146.9 1069.4,146.4 C1063.9,145.9 1058.0,144.6 1051.5,143.8 C1045.0,143.0 1037.6,142.0 1030.7,141.6 C1023.8,141.2 1016.5,140.9 1010.0,141.4 C1003.5,141.9 998.7,143.1 992.0,144.4 C985.3,145.7 977.7,147.5 969.7,149.1 C961.7,150.7 952.0,152.1 944.1,154.2 C936.2,156.3 927.2,159.4 922.2,161.7 C917.2,164.0 916.1,166.1 913.9,168.0 C911.6,169.9 910.3,171.1 908.7,173.2 C907.1,175.3 905.5,177.8 904.2,180.4 C902.9,183.0 901.9,185.2 900.8,188.7 C899.6,192.1 898.7,196.5 897.3,201.1 C895.9,205.7 894.2,211.8 892.5,216.3 C890.8,220.9 889.5,224.5 887.0,228.4 C884.5,232.3 882.3,236.3 877.8,239.7 C873.3,243.1 865.8,246.7 859.9,248.6 C854.0,250.5 848.5,251.5 842.1,251.1 C835.7,250.7 828.1,248.8 821.7,246.0 C815.3,243.2 809.1,239.4 803.8,234.5 C798.5,229.6 793.2,223.1 789.8,216.7 C786.4,210.3 784.8,202.8 783.4,196.3 C782.0,189.9 781.8,182.7 781.6,178.0 C781.4,173.3 782.0,169.8 782.1,168.2Z" fill="url(#ctxFace)" stroke="#35474f" stroke-width="1.55"/>
<g stroke="#35474f" stroke-width="1.4" fill="none">
<line x1="835.7" y1="75.4" x2="833.1" y2="104.0"/>
<line x1="859.9" y1="63.4" x2="861.2" y2="90.0"/>
<line x1="926.3" y1="45.8" x2="930.1" y2="71.8"/>
</g>
<g stroke="#8b8f8e" stroke-width="1.15" fill="none" opacity="0.8">
<path d="M828.0,202.7 C827.4,197.8 821.9,183.3 824.2,173.3 C826.6,163.3 832.3,152.5 842.1,142.7 C851.9,132.9 865.9,122.0 882.9,114.6 C899.9,107.1 925.4,101.4 944.1,98.0 C962.8,94.6 981.2,93.5 995.2,94.2 C1009.2,94.9 1020.6,98.5 1028.3,101.9 C1035.9,105.3 1039.0,112.5 1041.1,114.6"/>
<path d="M1041.1,114.6 C1036.8,114.8 1022.0,114.6 1015.6,115.9 C1009.2,117.2 1004.9,121.2 1002.8,122.3"/>
<path d="M865.0,193.7 C866.7,188.6 870.5,171.6 875.2,163.1 C879.9,154.6 887.6,147.2 893.1,142.7 C898.6,138.2 905.9,137.4 908.4,136.3"/>
</g>
</g>
<g transform="translate(0,0)" stroke-linejoin="round">
<path d="M919.5,302.1 C920.7,299.9 923.3,294.9 926.7,289.1 C930.1,283.3 935.4,273.4 939.7,267.4 C944.1,261.4 947.7,257.5 952.8,252.9 C957.9,248.3 963.6,244.1 970.1,239.9 C976.6,235.7 984.6,231.2 991.8,227.6 C999.0,224.0 1006.3,221.0 1013.5,218.2 C1020.7,215.4 1028.0,212.7 1035.2,210.9 C1042.5,209.2 1050.2,208.2 1057.0,207.7 C1063.8,207.2 1070.0,207.2 1075.8,208.0 C1081.6,208.8 1087.6,210.5 1091.7,212.4 C1095.8,214.3 1098.3,216.5 1100.4,219.6 C1102.5,222.7 1103.6,227.1 1104.4,231.2 C1105.2,235.3 1105.4,239.9 1105.4,244.2 C1105.4,248.5 1105.0,253.1 1104.4,257.2 C1103.8,261.3 1102.7,265.9 1101.8,268.8 C1100.9,271.7 1099.4,273.6 1098.9,274.6 C1099.0,273.9 1099.5,272.5 1099.6,270.3 C1099.7,268.1 1099.8,265.0 1099.6,261.6 C1099.4,258.2 1099.0,253.6 1098.2,250.0 C1097.4,246.4 1096.4,242.8 1094.6,239.9 C1092.8,237.0 1090.4,234.7 1087.3,232.6 C1084.2,230.5 1080.4,228.7 1075.8,227.6 C1071.2,226.5 1065.9,225.9 1059.9,226.1 C1053.9,226.3 1046.6,227.4 1039.6,229.0 C1032.6,230.6 1025.4,232.8 1017.9,235.5 C1010.4,238.2 1001.9,241.6 994.7,244.9 C987.5,248.2 980.8,251.6 974.5,255.1 C968.2,258.6 962.4,262.2 957.1,265.9 C951.8,269.6 947.2,273.4 942.6,277.5 C938.0,281.6 933.5,286.4 929.6,290.5 C925.8,294.6 921.2,300.2 919.5,302.1Z" fill="url(#scBand)" stroke="#6d7b83" stroke-width="1.1"/>
<path d="M919.5,302.1 C921.2,300.2 925.8,294.6 929.6,290.5 C933.5,286.4 938.0,281.6 942.6,277.5 C947.2,273.4 951.8,269.6 957.1,265.9 C962.4,262.2 968.2,258.6 974.5,255.1 C980.8,251.6 987.5,248.2 994.7,244.9 C1001.9,241.6 1010.4,238.2 1017.9,235.5 C1025.4,232.8 1032.6,230.6 1039.6,229.0 C1046.6,227.4 1053.9,226.3 1059.9,226.1 C1065.9,225.9 1071.2,226.5 1075.8,227.6 C1080.4,228.7 1084.2,230.5 1087.3,232.6 C1090.4,234.7 1092.8,237.0 1094.6,239.9 C1096.4,242.8 1097.4,246.4 1098.2,250.0 C1099.0,253.6 1099.4,258.2 1099.6,261.6 C1099.8,265.0 1099.7,268.1 1099.6,270.3 C1099.5,272.5 1099.0,273.9 1098.9,274.6 C1098.4,275.2 1096.8,277.3 1095.6,278.0 C1094.4,278.7 1093.1,278.9 1091.7,278.9 C1090.3,278.9 1089.0,278.8 1087.3,277.8 C1085.6,276.8 1083.8,274.6 1081.6,273.1 C1079.4,271.6 1077.2,269.9 1074.3,268.8 C1071.4,267.7 1068.3,266.9 1064.2,266.6 C1060.1,266.3 1055.0,266.5 1049.7,267.1 C1044.4,267.7 1038.4,268.8 1032.4,270.3 C1026.4,271.8 1020.3,273.8 1013.5,276.0 C1006.7,278.2 999.0,280.9 991.8,283.3 C984.6,285.7 977.3,288.2 970.1,290.5 C962.9,292.8 954.9,295.3 948.4,297.0 C941.9,298.7 935.8,300.0 931.0,300.9 C926.2,301.8 921.4,301.9 919.5,302.1Z" fill="url(#scFace)" stroke="#5b6a72" stroke-width="1.1"/>
<path d="M960.0,281.8 C965.3,278.9 980.5,269.3 991.8,264.5 C1003.1,259.7 1017.1,255.6 1028.0,252.9 C1038.9,250.2 1049.0,249.0 1057.0,248.5 C1065.0,248.0 1071.2,249.0 1075.8,250.0 C1080.4,251.0 1082.6,252.7 1084.4,254.3 C1086.2,255.9 1086.2,258.5 1086.6,259.4" stroke="#c4b0a4" stroke-width="1" fill="none" opacity="0.8"/>
<path d="M975.0,270.0 C980.8,267.0 998.3,256.8 1010.0,252.0 C1021.7,247.2 1035.0,243.1 1045.0,241.0 C1055.0,238.9 1063.5,239.0 1070.0,239.5 C1076.5,240.0 1080.7,241.9 1084.0,244.0 C1087.3,246.1 1089.0,250.7 1090.0,252.0" stroke="#d8c4b8" stroke-width="1" fill="none" opacity="0.8"/>
</g>
<g stroke-linejoin="round">
<path d="M1299.8,302.2 C1299.3,300.6 1298.7,296.5 1297.1,292.7 C1295.5,288.9 1293.0,283.5 1290.0,279.2 C1287.0,274.9 1284.0,271.2 1279.2,266.7 C1274.4,262.2 1267.3,256.6 1261.3,252.3 C1255.3,248.0 1249.4,244.3 1243.4,240.7 C1237.4,237.1 1231.4,233.6 1225.4,230.8 C1219.4,228.0 1213.5,225.9 1207.5,223.7 C1201.5,221.5 1195.6,219.3 1189.6,217.4 C1183.6,215.5 1177.7,213.5 1171.7,212.0 C1165.7,210.5 1159.8,208.9 1153.8,208.4 C1147.8,207.9 1140.9,208.2 1135.8,209.0 C1130.7,209.8 1126.4,211.1 1123.3,212.9 C1120.2,214.8 1118.3,217.1 1117.0,220.1 C1115.7,223.1 1115.7,226.0 1115.2,230.8 C1114.8,235.6 1114.2,242.8 1114.3,248.8 C1114.4,254.8 1115.2,262.5 1115.8,266.7 C1116.4,270.9 1117.6,272.7 1117.9,273.9 C1118.2,273.3 1119.2,273.0 1119.7,270.3 C1120.2,267.6 1119.8,262.2 1120.6,257.7 C1121.3,253.2 1122.2,247.4 1124.2,243.4 C1126.2,239.4 1128.9,236.0 1132.3,233.5 C1135.7,231.0 1139.7,229.2 1144.8,228.2 C1149.9,227.2 1156.7,227.2 1162.7,227.3 C1168.7,227.5 1174.6,228.2 1180.6,229.1 C1186.6,230.0 1192.6,231.1 1198.6,232.6 C1204.6,234.1 1210.5,235.9 1216.5,238.0 C1222.5,240.1 1228.4,242.5 1234.4,245.2 C1240.4,247.9 1246.3,250.5 1252.3,254.1 C1258.3,257.7 1264.3,261.6 1270.3,266.7 C1276.3,271.8 1283.3,278.7 1288.2,284.6 C1293.1,290.5 1297.9,299.3 1299.8,302.2Z" fill="url(#scBandR)" stroke="#6d7b83" stroke-width="1.1"/>
<path d="M1299.8,302.2 C1297.9,299.3 1293.1,290.5 1288.2,284.6 C1283.3,278.7 1276.3,271.8 1270.3,266.7 C1264.3,261.6 1258.3,257.7 1252.3,254.1 C1246.3,250.5 1240.4,247.9 1234.4,245.2 C1228.4,242.5 1222.5,240.1 1216.5,238.0 C1210.5,235.9 1204.6,234.1 1198.6,232.6 C1192.6,231.1 1186.6,230.0 1180.6,229.1 C1174.6,228.2 1168.7,227.5 1162.7,227.3 C1156.7,227.2 1149.9,227.2 1144.8,228.2 C1139.7,229.2 1135.7,231.0 1132.3,233.5 C1128.9,236.0 1126.2,239.4 1124.2,243.4 C1122.2,247.4 1121.3,253.2 1120.6,257.7 C1119.8,262.2 1120.2,267.6 1119.7,270.3 C1119.2,273.0 1118.2,273.3 1117.9,273.9 C1118.8,274.6 1121.3,277.4 1123.3,278.3 C1125.2,279.2 1127.5,279.6 1129.6,279.2 C1131.7,278.8 1133.6,277.1 1135.8,275.6 C1138.0,274.1 1140.0,271.8 1143.0,270.3 C1146.0,268.8 1149.0,267.3 1153.8,266.7 C1158.6,266.1 1165.7,266.1 1171.7,266.7 C1177.7,267.3 1183.6,268.8 1189.6,270.3 C1195.6,271.8 1201.5,273.8 1207.5,275.6 C1213.5,277.4 1219.4,279.1 1225.4,281.0 C1231.4,282.9 1237.4,285.2 1243.4,287.3 C1249.4,289.4 1255.3,291.7 1261.3,293.6 C1267.3,295.5 1272.8,297.2 1279.2,298.6 C1285.6,300.0 1296.4,301.6 1299.8,302.2Z" fill="url(#scFaceR)" stroke="#5b6a72" stroke-width="1.1"/>
<path d="M1260.4,281.8 C1255.1,279.2 1239.9,271.0 1228.6,266.5 C1217.3,262.0 1203.3,257.7 1192.4,254.9 C1181.5,252.1 1171.4,250.3 1163.4,249.5 C1155.4,248.7 1149.2,249.2 1144.6,250.0 C1140.0,250.8 1137.8,252.7 1136.0,254.3 C1134.2,255.9 1134.2,258.5 1133.8,259.4" stroke="#c4b0a4" stroke-width="1" fill="none" opacity="0.8"/>
</g>
<g transform="translate(0,0)" stroke-linejoin="round">
<path d="M1010.4,315.9 C1011.6,316.2 1014.5,317.1 1017.6,317.6 C1020.7,318.2 1025.6,318.2 1029.2,319.2 C1032.8,320.2 1036.7,321.8 1039.3,323.8 C1041.9,325.8 1044.0,327.4 1045.1,331.0 C1046.2,334.6 1046.0,339.7 1045.8,345.5 C1045.6,351.3 1044.8,359.1 1043.7,365.8 C1042.6,372.6 1041.2,379.2 1039.3,386.0 C1037.4,392.8 1035.0,399.5 1032.1,406.3 C1029.2,413.1 1025.6,420.3 1022.0,426.6 C1018.4,432.9 1014.3,438.6 1010.4,443.9 C1006.5,449.2 1002.4,454.8 998.8,458.4 C995.2,462.0 991.6,464.2 988.7,465.6 C985.8,467.0 982.6,466.6 981.4,466.8 L1000,400Z" fill="url(#lgnSide)" stroke="#8a979e" stroke-width="1"/>
<path d="M1004.6,315.4 C1001.7,315.9 997.1,316.8 993.0,318.7 C988.9,320.6 984.6,323.4 980.0,326.7 C975.4,330.0 970.3,334.2 965.5,338.3 C960.7,342.4 955.3,347.0 951.0,351.3 C946.7,355.6 943.1,359.7 939.5,364.3 C935.9,368.9 932.2,373.5 929.3,378.8 C926.4,384.1 924.3,390.4 922.1,396.2 C919.9,402.0 917.4,408.9 916.3,413.5 C915.2,418.1 914.6,420.8 915.6,423.7 C916.6,426.6 918.9,428.5 922.1,430.9 C925.4,433.3 930.8,435.2 935.1,438.1 C939.4,441.0 944.0,444.9 948.1,448.3 C952.2,451.7 955.8,455.6 959.7,458.4 C963.6,461.2 967.7,463.5 971.3,464.9 C974.9,466.3 978.8,467.3 981.4,466.8 C984.0,466.3 985.0,464.9 987.2,462.0 C989.4,459.1 991.9,454.6 994.5,449.7 C997.1,444.8 1000.2,438.6 1003.1,432.3 C1006.0,426.0 1009.1,418.9 1011.8,412.1 C1014.5,405.4 1017.1,398.6 1019.1,391.8 C1021.1,385.1 1022.8,378.1 1024.1,371.6 C1025.4,365.1 1026.5,358.4 1027.0,352.8 C1027.5,347.2 1027.5,342.7 1027.0,338.3 C1026.5,333.9 1025.7,329.8 1024.1,326.7 C1022.5,323.6 1019.9,321.3 1017.6,319.5 C1015.3,317.7 1012.6,316.6 1010.4,315.9 C1008.2,315.2 1007.5,314.9 1004.6,315.4Z" fill="url(#lgnFace)" stroke="#7f8c93" stroke-width="1"/>
<path d="M933.7,416.4 C935.2,412.3 938.5,400.2 942.4,391.8 C946.2,383.4 951.5,373.5 956.8,365.8 C962.1,358.1 968.2,351.1 974.2,345.5 C980.2,339.9 988.4,335.3 993.0,332.5 C997.6,329.7 1000.2,329.5 1001.7,328.9" stroke="#c9a48a" stroke-width="1.1" fill="none" opacity="0.8"/>
<ellipse cx="998.1" cy="364.3" rx="17.6" ry="28.6" transform="rotate(17 998.1 364.3)" fill="url(#lgnOval)" stroke="#a9a6a3" stroke-width="1"/>
</g>
<g transform="translate(2214.2,0) scale(-1,1)" stroke-linejoin="round">
<path d="M1010.4,315.9 C1011.6,316.2 1014.5,317.1 1017.6,317.6 C1020.7,318.2 1025.6,318.2 1029.2,319.2 C1032.8,320.2 1036.7,321.8 1039.3,323.8 C1041.9,325.8 1044.0,327.4 1045.1,331.0 C1046.2,334.6 1046.0,339.7 1045.8,345.5 C1045.6,351.3 1044.8,359.1 1043.7,365.8 C1042.6,372.6 1041.2,379.2 1039.3,386.0 C1037.4,392.8 1035.0,399.5 1032.1,406.3 C1029.2,413.1 1025.6,420.3 1022.0,426.6 C1018.4,432.9 1014.3,438.6 1010.4,443.9 C1006.5,449.2 1002.4,454.8 998.8,458.4 C995.2,462.0 991.6,464.2 988.7,465.6 C985.8,467.0 982.6,466.6 981.4,466.8 L1000,400Z" fill="url(#lgnSide)" stroke="#8a979e" stroke-width="1"/>
<path d="M1004.6,315.4 C1001.7,315.9 997.1,316.8 993.0,318.7 C988.9,320.6 984.6,323.4 980.0,326.7 C975.4,330.0 970.3,334.2 965.5,338.3 C960.7,342.4 955.3,347.0 951.0,351.3 C946.7,355.6 943.1,359.7 939.5,364.3 C935.9,368.9 932.2,373.5 929.3,378.8 C926.4,384.1 924.3,390.4 922.1,396.2 C919.9,402.0 917.4,408.9 916.3,413.5 C915.2,418.1 914.6,420.8 915.6,423.7 C916.6,426.6 918.9,428.5 922.1,430.9 C925.4,433.3 930.8,435.2 935.1,438.1 C939.4,441.0 944.0,444.9 948.1,448.3 C952.2,451.7 955.8,455.6 959.7,458.4 C963.6,461.2 967.7,463.5 971.3,464.9 C974.9,466.3 978.8,467.3 981.4,466.8 C984.0,466.3 985.0,464.9 987.2,462.0 C989.4,459.1 991.9,454.6 994.5,449.7 C997.1,444.8 1000.2,438.6 1003.1,432.3 C1006.0,426.0 1009.1,418.9 1011.8,412.1 C1014.5,405.4 1017.1,398.6 1019.1,391.8 C1021.1,385.1 1022.8,378.1 1024.1,371.6 C1025.4,365.1 1026.5,358.4 1027.0,352.8 C1027.5,347.2 1027.5,342.7 1027.0,338.3 C1026.5,333.9 1025.7,329.8 1024.1,326.7 C1022.5,323.6 1019.9,321.3 1017.6,319.5 C1015.3,317.7 1012.6,316.6 1010.4,315.9 C1008.2,315.2 1007.5,314.9 1004.6,315.4Z" fill="url(#lgnFace)" stroke="#7f8c93" stroke-width="1"/>
<path d="M933.7,416.4 C935.2,412.3 938.5,400.2 942.4,391.8 C946.2,383.4 951.5,373.5 956.8,365.8 C962.1,358.1 968.2,351.1 974.2,345.5 C980.2,339.9 988.4,335.3 993.0,332.5 C997.6,329.7 1000.2,329.5 1001.7,328.9" stroke="#c9a48a" stroke-width="1.1" fill="none" opacity="0.8"/>
<ellipse cx="998.1" cy="364.3" rx="17.6" ry="28.6" transform="rotate(17 998.1 364.3)" fill="url(#lgnOval)" stroke="#a9a6a3" stroke-width="1"/>
</g>
<g stroke="#000" stroke-width="2.8" fill="none" stroke-linejoin="miter">
<path d="M920,267.5 H876.3 V488.8 H1346.4 V268.1 H1300"/>
<path d="M876.3,379.1 H910"/>
<path d="M1346.4,379.2 H1306"/>
</g>
<g stroke="#000" stroke-width="2.75" fill="none" stroke-dasharray="4.05 2.4">
<path d="M909.0,192 V311.5 H965.8 V336.5"/>
<path d="M1315.6,197 V318.3 H1258.3 V342.6"/>
</g>
<polygon points="940.5,267.5 917.3,260.9 923.7,267.5 917.3,274.1" fill="#000"/>
<polygon points="928.6,379.1 905.4,372.5 911.8,379.1 905.4,385.7" fill="#000"/>
<polygon points="1279.0,268.1 1302.2,261.5 1295.8,268.1 1302.2,274.7" fill="#000"/>
<polygon points="1287.3,379.2 1310.5,372.6 1304.1,379.2 1310.5,385.8" fill="#000"/>
<polygon points="908.8,173.2 901.9,196.5 908.8,192.7 915.7,196.5" fill="#000"/>
<polygon points="1315.4,179.6 1308.5,202.9 1315.4,199.1 1322.3,202.9" fill="#000"/>
<g fill="#fff" stroke="#000">
<rect x="1061.5" y="31.7" width="99.0" height="27.2" stroke-width="2.6"/>
<rect x="1087.1" y="180.7" width="47.9" height="27.2" stroke-width="2.2"/>
<rect x="1074.7" y="338.5" width="79.2" height="28.3" stroke-width="2.5"/>
<rect x="1060.3" y="475.2" width="101.6" height="27.9" stroke-width="2.8"/>
</g>
<g fill="#000" font-size="28">
<text x="1067.7" y="54.2" font-size="28.6">Cortex</text>
<text x="1090.7" y="203.4" font-size="28.6">SC</text>
<text x="1083.3" y="362.2" font-size="29">LGN</text>
<text x="1062.1" y="500.0" font-size="28.9">Retinas</text>
<text x="852.2" y="40.5">VC</text>
<text x="1329.6" y="40.2">VC</text>
</g>
<g stroke="#000" stroke-width="2.4" fill="none" stroke-linejoin="round">
<path d="M845.4,59 Q858,52.5 871.4,47.8 L935.2,33"/>
<path d="M1299.9,35.5 L1364.2,50.8 Q1378,56 1389.8,62.3"/>
</g>
<g stroke="#000" stroke-width="4.3" fill="none" stroke-linecap="butt">
<path d="M117.9,605.2 H129.7 V1032.6"/>
<path d="M117.9,1021.0 H719.3"/>
<line x1="117.9" y1="709.1" x2="129.7" y2="709.1"/>
<line x1="117.9" y1="813.0" x2="129.7" y2="813.0"/>
<line x1="117.9" y1="916.9" x2="129.7" y2="916.9"/>
<line x1="186.2" y1="1021.0" x2="186.2" y2="1032.6"/>
<line x1="299.3" y1="1021.0" x2="299.3" y2="1032.6"/>
<line x1="412.4" y1="1021.0" x2="412.4" y2="1032.6"/>
<line x1="695.2" y1="1021.0" x2="695.2" y2="1032.6"/>
</g>
<g font-weight="bold" font-size="32" fill="#000">
<text x="114.5" y="615.4" text-anchor="end">1.5</text>
<text x="114.5" y="719.3" text-anchor="end">1.0</text>
<text x="114.5" y="823.2" text-anchor="end">0.5</text>
<text x="114.5" y="927.1" text-anchor="end">0.0</text>
<text x="114.5" y="1031.2" text-anchor="end">-0.5</text>
<text x="129.9" y="1067.2" text-anchor="middle">0</text>
<text x="186.4" y="1067.2" text-anchor="middle">1</text>
<text x="299.5" y="1067.2" text-anchor="middle">3</text>
<text x="412.6" y="1067.2" text-anchor="middle">5</text>
<text x="695.8" y="1067.2" text-anchor="middle">10</text>
</g>
<text x="233.4" y="604.2" font-weight="bold" font-size="40.15" fill="#000">Superior Colliculus (SC)</text>
<line x1="141.5" y1="916.9" x2="717.8" y2="916.9" stroke="#000" stroke-width="4" stroke-linecap="round" stroke-dasharray="0 12.48"/>
<line x1="186.2" y1="776.5" x2="696.0" y2="692.2" stroke="#000" stroke-width="4.1"/>
<clipPath id="clip129"><rect x="186.2" y="560" width="533.1" height="461.0"/></clipPath>
<g clip-path="url(#clip129)" fill="none" stroke="#000" stroke-width="5.8" stroke-linecap="round" stroke-dasharray="0 18.68">
<path d="M186.20,734.22 L190.34,734.01 L194.48,733.79 L198.62,733.57 L202.76,733.34 L206.90,733.11 L211.04,732.87 L215.18,732.63 L219.32,732.39 L223.46,732.14 L227.60,731.88 L231.74,731.62 L235.88,731.35 L240.02,731.08 L244.16,730.80 L248.30,730.52 L252.44,730.23 L256.58,729.93 L260.72,729.63 L264.86,729.31 L269.00,728.99 L273.14,728.67 L277.28,728.33 L281.42,727.99 L285.56,727.64 L289.70,727.28 L293.84,726.91 L297.98,726.54 L302.12,726.15 L306.26,725.75 L310.40,725.35 L314.54,724.93 L318.68,724.50 L322.82,724.07 L326.96,723.62 L331.10,723.16 L335.24,722.69 L339.38,722.20 L343.52,721.71 L347.66,721.20 L351.80,720.68 L355.94,720.15 L360.08,719.60 L364.22,719.04 L368.36,718.47 L372.50,717.89 L376.64,717.29 L380.78,716.67 L384.92,716.05 L389.06,715.41 L393.20,714.75 L397.34,714.08 L401.48,713.40 L405.62,712.70 L409.76,711.99 L413.90,711.27 L418.04,710.53 L422.18,709.78 L426.32,709.01 L430.46,708.23 L434.60,707.44 L438.74,706.63 L442.88,705.81 L447.02,704.98 L451.16,704.13 L455.30,703.28 L459.44,702.40 L463.58,701.52 L467.72,700.63 L471.86,699.72 L476.00,698.80 L480.14,697.88 L484.28,696.94 L488.42,695.99 L492.56,695.03 L496.70,694.06 L500.84,693.08 L504.98,692.09 L509.12,691.09 L513.26,690.08 L517.40,689.07 L521.54,688.04 L525.68,687.01 L529.82,685.97 L533.96,684.92 L538.10,683.87 L542.24,682.80 L546.38,681.73 L550.52,680.66 L554.66,679.57 L558.80,678.49 L562.94,677.39 L567.08,676.29 L571.22,675.18 L575.36,674.07 L579.50,672.95 L583.64,671.83 L587.78,670.70 L591.92,669.57 L596.06,668.44 L600.20,667.29 L604.34,666.15 L608.48,665.00 L612.62,663.84 L616.76,662.69 L620.90,661.53 L625.04,660.36 L629.18,659.19 L633.32,658.02 L637.46,656.84 L641.60,655.67 L645.74,654.48 L649.88,653.30 L654.02,652.11 L658.16,650.92 L662.30,649.73 L666.44,648.53 L670.58,647.33 L674.72,646.13 L678.86,644.93 L683.00,643.73"/>
<path d="M186.20,818.78 L190.36,817.62 L194.53,816.46 L198.69,815.30 L202.86,814.15 L207.02,813.01 L211.19,811.87 L215.35,810.73 L219.52,809.60 L223.69,808.48 L227.85,807.36 L232.01,806.24 L236.18,805.14 L240.34,804.03 L244.51,802.94 L248.67,801.85 L252.84,800.76 L257.00,799.68 L261.17,798.61 L265.33,797.55 L269.50,796.50 L273.66,795.45 L277.83,794.41 L282.00,793.38 L286.16,792.35 L290.32,791.34 L294.49,790.33 L298.65,789.34 L302.82,788.35 L306.99,787.37 L311.15,786.41 L315.31,785.45 L319.48,784.50 L323.64,783.57 L327.81,782.64 L331.98,781.73 L336.14,780.83 L340.31,779.94 L344.47,779.07 L348.63,778.20 L352.80,777.35 L356.96,776.51 L361.13,775.69 L365.29,774.87 L369.46,774.08 L373.62,773.29 L377.79,772.52 L381.96,771.76 L386.12,771.02 L390.28,770.29 L394.45,769.58 L398.62,768.88 L402.78,768.19 L406.94,767.52 L411.11,766.86 L415.27,766.22 L419.44,765.59 L423.61,764.97 L427.77,764.37 L431.94,763.78 L436.10,763.21 L440.26,762.65 L444.43,762.10 L448.60,761.56 L452.76,761.04 L456.93,760.53 L461.09,760.03 L465.25,759.55 L469.42,759.08 L473.59,758.62 L477.75,758.17 L481.92,757.73 L486.08,757.30 L490.25,756.88 L494.41,756.48 L498.57,756.08 L502.74,755.69 L506.90,755.31 L511.07,754.94 L515.24,754.58 L519.40,754.23 L523.57,753.89 L527.73,753.56 L531.89,753.23 L536.06,752.91 L540.22,752.60 L544.39,752.29 L548.55,751.99 L552.72,751.70 L556.88,751.42 L561.05,751.14 L565.22,750.87 L569.38,750.60 L573.55,750.34 L577.71,750.08 L581.88,749.83 L586.04,749.59 L590.20,749.35 L594.37,749.11 L598.54,748.88 L602.70,748.65 L606.87,748.43 L611.03,748.21 L615.19,748.00 L619.36,747.79 L623.52,747.58 L627.69,747.38 L631.86,747.18 L636.02,746.98 L640.18,746.79 L644.35,746.60 L648.51,746.41 L652.68,746.23 L656.85,746.05 L661.01,745.87 L665.17,745.70 L669.34,745.52 L673.50,745.35 L677.67,745.19 L681.84,745.02 L686.00,744.86"/>
</g>
<g stroke="#000" stroke-width="5.2" fill="#000" stroke-linecap="butt">
<path d="M186.2,760.1 V821.0 M177.9,760.1 H194.6 M177.9,821.0 H194.6" fill="none"/>
<path d="M299.3,723.4 V776.9 M291.0,723.4 H307.6 M291.0,776.9 H307.6" fill="none"/>
<path d="M412.4,702.2 V744.5 M404.1,702.2 H420.8 M404.1,744.5 H420.8" fill="none"/>
<path d="M695.2,668.4 V732.9 M686.9,668.4 H703.5 M686.9,732.9 H703.5" fill="none"/>
</g>
<circle cx="186.2" cy="790.8" r="8.3" fill="#000"/>
<circle cx="299.3" cy="750.7" r="8.3" fill="#000"/>
<circle cx="412.4" cy="723.4" r="8.3" fill="#000"/>
<circle cx="695.2" cy="701.4" r="8.3" fill="#000"/>
<g stroke="#000" stroke-width="4.3" fill="none" stroke-linecap="butt">
<path d="M805.1,605.2 H816.9 V1032.6"/>
<path d="M805.1,1021.0 H1405.7"/>
<line x1="805.1" y1="709.1" x2="816.9" y2="709.1"/>
<line x1="805.1" y1="813.0" x2="816.9" y2="813.0"/>
<line x1="805.1" y1="916.9" x2="816.9" y2="916.9"/>
<line x1="873.5" y1="1021.0" x2="873.5" y2="1032.6"/>
<line x1="986.7" y1="1021.0" x2="986.7" y2="1032.6"/>
<line x1="1099.9" y1="1021.0" x2="1099.9" y2="1032.6"/>
<line x1="1382.9" y1="1021.0" x2="1382.9" y2="1032.6"/>
</g>
<g font-weight="bold" font-size="32" fill="#000">
<text x="801.7" y="615.4" text-anchor="end">1.5</text>
<text x="801.7" y="719.3" text-anchor="end">1.0</text>
<text x="801.7" y="823.2" text-anchor="end">0.5</text>
<text x="801.7" y="927.1" text-anchor="end">0.0</text>
<text x="801.7" y="1031.2" text-anchor="end">-0.5</text>
<text x="817.1" y="1067.2" text-anchor="middle">0</text>
<text x="873.7" y="1067.2" text-anchor="middle">1</text>
<text x="986.9" y="1067.2" text-anchor="middle">3</text>
<text x="1100.1" y="1067.2" text-anchor="middle">5</text>
<text x="1383.5" y="1067.2" text-anchor="middle">10</text>
</g>
<text x="957.4" y="604.2" font-weight="bold" font-size="40.15" fill="#000">Visual Cortex (VC)</text>
<line x1="828.7" y1="916.9" x2="1404.2" y2="916.9" stroke="#000" stroke-width="4" stroke-linecap="round" stroke-dasharray="0 12.48"/>
<line x1="873.4" y1="858.8" x2="1382.9" y2="975.4" stroke="#000" stroke-width="4.1"/>
<clipPath id="clip816"><rect x="873.4" y="560" width="532.3" height="461.0"/></clipPath>
<g clip-path="url(#clip816)" fill="none" stroke="#000" stroke-width="5.8" stroke-linecap="round" stroke-dasharray="0 18.68">
<path d="M873.40,816.15 L877.51,817.55 L881.63,818.94 L885.74,820.33 L889.85,821.71 L893.97,823.09 L898.08,824.47 L902.19,825.84 L906.31,827.20 L910.42,828.56 L914.53,829.91 L918.65,831.26 L922.76,832.61 L926.87,833.94 L930.99,835.27 L935.10,836.60 L939.21,837.92 L943.33,839.23 L947.44,840.53 L951.55,841.83 L955.67,843.12 L959.78,844.41 L963.89,845.68 L968.01,846.95 L972.12,848.21 L976.23,849.46 L980.35,850.71 L984.46,851.94 L988.57,853.16 L992.69,854.38 L996.80,855.59 L1000.91,856.78 L1005.03,857.97 L1009.14,859.14 L1013.25,860.31 L1017.37,861.46 L1021.48,862.61 L1025.59,863.74 L1029.71,864.86 L1033.82,865.97 L1037.93,867.07 L1042.05,868.15 L1046.16,869.22 L1050.27,870.28 L1054.39,871.33 L1058.50,872.37 L1062.61,873.39 L1066.73,874.40 L1070.84,875.39 L1074.95,876.38 L1079.07,877.35 L1083.18,878.31 L1087.29,879.25 L1091.41,880.18 L1095.52,881.10 L1099.63,882.00 L1103.75,882.89 L1107.86,883.77 L1111.97,884.64 L1116.09,885.49 L1120.20,886.33 L1124.31,887.15 L1128.43,887.97 L1132.54,888.77 L1136.65,889.56 L1140.77,890.34 L1144.88,891.11 L1148.99,891.86 L1153.11,892.60 L1157.22,893.34 L1161.33,894.06 L1165.45,894.77 L1169.56,895.47 L1173.67,896.16 L1177.79,896.84 L1181.90,897.51 L1186.01,898.17 L1190.13,898.82 L1194.24,899.47 L1198.35,900.10 L1202.47,900.73 L1206.58,901.34 L1210.69,901.95 L1214.81,902.56 L1218.92,903.15 L1223.03,903.74 L1227.15,904.32 L1231.26,904.89 L1235.37,905.46 L1239.49,906.02 L1243.60,906.57 L1247.71,907.12 L1251.83,907.66 L1255.94,908.20 L1260.05,908.73 L1264.17,909.25 L1268.28,909.77 L1272.39,910.29 L1276.51,910.80 L1280.62,911.30 L1284.73,911.81 L1288.85,912.30 L1292.96,912.79 L1297.07,913.28 L1301.19,913.77 L1305.30,914.25 L1309.41,914.72 L1313.53,915.20 L1317.64,915.67 L1321.75,916.13 L1325.87,916.60 L1329.98,917.05 L1334.09,917.51 L1338.21,917.96 L1342.32,918.42 L1346.43,918.86 L1350.55,919.31 L1354.66,919.75 L1358.77,920.19 L1362.89,920.63 L1367.00,921.06"/>
<path d="M873.40,901.45 L877.55,901.94 L881.71,902.43 L885.87,902.93 L890.02,903.44 L894.17,903.95 L898.33,904.46 L902.49,904.98 L906.64,905.50 L910.79,906.03 L914.95,906.57 L919.11,907.11 L923.26,907.65 L927.41,908.20 L931.57,908.76 L935.73,909.33 L939.88,909.90 L944.03,910.48 L948.19,911.06 L952.35,911.65 L956.50,912.25 L960.65,912.86 L964.81,913.47 L968.97,914.10 L973.12,914.73 L977.27,915.37 L981.43,916.01 L985.59,916.67 L989.74,917.34 L993.89,918.02 L998.05,918.70 L1002.20,919.40 L1006.36,920.11 L1010.51,920.82 L1014.67,921.55 L1018.83,922.29 L1022.98,923.04 L1027.13,923.81 L1031.29,924.58 L1035.44,925.37 L1039.60,926.16 L1043.76,926.97 L1047.91,927.80 L1052.07,928.63 L1056.22,929.48 L1060.38,930.34 L1064.53,931.22 L1068.68,932.11 L1072.84,933.01 L1076.99,933.92 L1081.15,934.85 L1085.31,935.80 L1089.46,936.75 L1093.62,937.72 L1097.77,938.70 L1101.92,939.70 L1106.08,940.71 L1110.23,941.73 L1114.39,942.76 L1118.55,943.81 L1122.70,944.87 L1126.86,945.95 L1131.01,947.04 L1135.16,948.13 L1139.32,949.25 L1143.47,950.37 L1147.63,951.50 L1151.79,952.65 L1155.94,953.81 L1160.10,954.98 L1164.25,956.16 L1168.40,957.35 L1172.56,958.55 L1176.71,959.77 L1180.87,960.99 L1185.03,962.22 L1189.18,963.46 L1193.34,964.71 L1197.49,965.97 L1201.64,967.24 L1205.80,968.51 L1209.95,969.80 L1214.11,971.09 L1218.26,972.39 L1222.42,973.70 L1226.58,975.01 L1230.73,976.33 L1234.88,977.66 L1239.04,979.00 L1243.19,980.34 L1247.35,981.69 L1251.50,983.04 L1255.66,984.40 L1259.82,985.77 L1263.97,987.14 L1268.12,988.51 L1272.28,989.89 L1276.43,991.28 L1280.59,992.67 L1284.74,994.07 L1288.90,995.47 L1293.06,996.87 L1297.21,998.28 L1301.37,999.69 L1305.52,1001.11 L1309.67,1002.53 L1313.83,1003.95 L1317.99,1005.38 L1322.14,1006.81 L1326.30,1008.25 L1330.45,1009.69 L1334.61,1011.13 L1338.76,1012.57 L1342.91,1014.02 L1347.07,1015.47 L1351.22,1016.92 L1355.38,1018.38 L1359.54,1019.83 L1363.69,1021.29 L1367.85,1022.76 L1372.00,1024.22"/>
</g>
<g stroke="#000" stroke-width="5.2" fill="#000" stroke-linecap="butt">
<path d="M873.5,829.9 V896.2 M865.2,829.9 H881.8 M865.2,896.2 H881.8" fill="none"/>
<path d="M986.7,861.6 V916.7 M978.4,861.6 H995.0 M978.4,916.7 H995.0" fill="none"/>
<path d="M1099.9,863.4 V933.5 M1091.6,863.4 H1108.2 M1091.6,933.5 H1108.2" fill="none"/>
<path d="M1382.9,962.8 V996.1 M1374.6,962.8 H1391.2 M1374.6,996.1 H1391.2" fill="none"/>
</g>
<polygon points="873.5,857.0 864.7,871.8 882.3,871.8" fill="#000"/>
<polygon points="986.7,881.8 977.9,896.6 995.5,896.6" fill="#000"/>
<polygon points="1099.9,892.0 1091.1,906.8 1108.7,906.8" fill="#000"/>
<polygon points="1382.9,972.0 1374.1,986.8 1391.7,986.8" fill="#000"/>
<g font-size="40" fill="#000">
<text x="209.0" y="1104.3">Stimulus Frequency [Hz]</text>
<text x="891.2" y="1104.3">Stimulus Frequency [Hz]</text>
<text transform="translate(52.2,1040.4) rotate(-90)">Mean BOLD Contrast [%]</text>
</g>
</svg>
</body></html>
